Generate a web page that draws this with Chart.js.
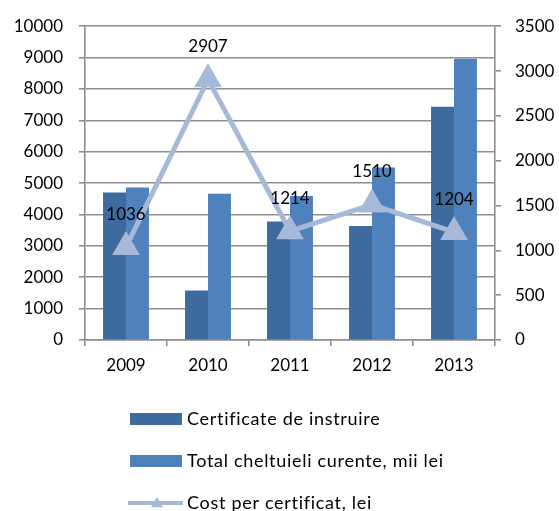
<!DOCTYPE html>
<html>
<head>
<meta charset="utf-8">
<script src="https://cdn.jsdelivr.net/npm/chart.js@4/dist/chart.umd.min.js"></script>
<style>
html,body{margin:0;padding:0;background:#fff;}
#wrap{width:559px;height:511px;position:relative;}
</style>
</head>
<body>
<div id="wrap"><canvas id="c" width="559" height="511"></canvas></div>
<script>
const categories = ['2009', '2010', '2011', '2012', '2013'];
const certificateInstruire = [4700, 1580, 3780, 3630, 7430];
const totalCheltuieli = [4860, 4660, 4590, 5500, 8960];
const costPerCertificat = [1036, 2907, 1214, 1510, 1204];
const seriesNames = ['Certificate de instruire', 'Total cheltuieli curente, mii lei', 'Cost per certificat, lei'];
const leftMax = 10000, leftStep = 1000;
const rightMax = 3500, rightStep = 500;

const FONT = 'Lato';
const GRID = '#8e8e8e';
const GRIDW = 1.6;

const dataLabels = {
  id: 'dataLabels',
  afterDatasetsDraw(chart) {
    const ctx = chart.ctx;
    chart.data.datasets.forEach((ds, i) => {
      if (ds.type !== 'line') return;
      const meta = chart.getDatasetMeta(i);
      ctx.save();
      ctx.font = '17px ' + FONT;
      ctx.fillStyle = '#000';
      ctx.textAlign = 'center';
      ctx.textBaseline = 'middle';
      meta.data.forEach((pt, j) => {
        ctx.fillText(String(ds.data[j]), pt.x, pt.y - 33);
      });
      ctx.restore();
    });
  }
};

const customLegend = {
  id: 'customLegend',
  afterDraw(chart) {
    const ctx = chart.ctx;
    const x0 = 130, x1 = 182, rows = [419, 461, 503];
    ctx.save();
    ctx.font = '18px ' + FONT;
    if ('letterSpacing' in ctx) ctx.letterSpacing = '0.7px';
    ctx.textBaseline = 'middle';
    ctx.textAlign = 'left';
    chart.data.datasets.forEach((ds, i) => {
      const y = rows[i];
      if (ds.type === 'line') {
        ctx.strokeStyle = ds.borderColor;
        ctx.lineWidth = 4;
        ctx.beginPath();
        ctx.moveTo(x0 - 2, y);
        ctx.lineTo(x1 + 1, y);
        ctx.stroke();
        ctx.fillStyle = ds.pointBackgroundColor;
        ctx.beginPath();
        const cx = 157, r = 6;
        ctx.moveTo(cx, y - r);
        ctx.lineTo(cx + r, y + r * 0.7);
        ctx.lineTo(cx - r, y + r * 0.7);
        ctx.closePath();
        ctx.fill();
      } else {
        ctx.fillStyle = ds.backgroundColor;
        ctx.fillRect(x0, y - 6, x1 - x0, 12);
      }
      ctx.fillStyle = '#000';
      ctx.fillText(ds.label, 187, y);
    });
    ctx.restore();
  }
};

function build() {
  new Chart(document.getElementById('c'), {
    data: {
      labels: categories,
      datasets: [
        {
          type: 'bar', label: seriesNames[0], data: certificateInstruire,
          backgroundColor: '#3f6a9e', yAxisID: 'y', order: 2,
          barPercentage: 1.0, categoryPercentage: 0.56
        },
        {
          type: 'bar', label: seriesNames[1], data: totalCheltuieli,
          backgroundColor: '#4f81bd', yAxisID: 'y', order: 2,
          barPercentage: 1.0, categoryPercentage: 0.56
        },
        {
          type: 'line', label: seriesNames[2], data: costPerCertificat,
          borderColor: '#a7b9d9', backgroundColor: '#a7b9d9',
          pointBackgroundColor: '#a7b9d9', pointBorderColor: '#a7b9d9',
          borderWidth: 5, pointStyle: 'triangle', pointRadius: 11,
          tension: 0, yAxisID: 'y1', order: 0
        }
      ]
    },
    options: {
      responsive: false,
      animation: false,
      layout: { padding: { left: 0, right: 0, top: 22, bottom: 131 } },
      plugins: { legend: { display: false }, tooltip: { enabled: false } },
      scales: {
        x: {
          grid: { offset: true, drawOnChartArea: false, drawTicks: true, tickLength: 6, color: GRID, lineWidth: GRIDW },
          border: { color: GRID, width: GRIDW },
          ticks: { color: '#000', font: { family: FONT, size: 17 }, padding: 9 },
          afterFit(s) { s.height = 40; }
        },
        y: {
          position: 'left', min: 0, max: leftMax,
          grid: { color: GRID, tickLength: 6, lineWidth: GRIDW },
          border: { color: GRID, width: GRIDW },
          ticks: { stepSize: leftStep, color: '#000', font: { family: FONT, size: 17 }, padding: 16,
                   callback: v => String(v) },
          afterFit(s) { s.width = 85; }
        },
        y1: {
          position: 'right', min: 0, max: rightMax,
          grid: { drawOnChartArea: false, color: GRID, tickLength: 6, lineWidth: GRIDW },
          border: { color: GRID, width: GRIDW },
          ticks: { stepSize: rightStep, color: '#000', font: { family: FONT, size: 17 }, padding: 14,
                   callback: v => String(v) },
          afterFit(s) { s.width = 64; }
        }
      }
    },
    plugins: [dataLabels, customLegend]
  });
}

if (document.fonts && document.fonts.load) {
  document.fonts.load('17px ' + FONT).then(build, build);
} else {
  build();
}
</script>
</body>
</html>
